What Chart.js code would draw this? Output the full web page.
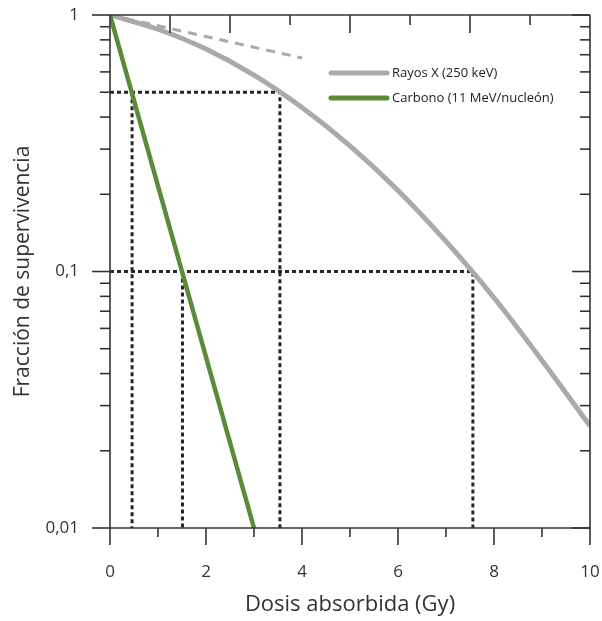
<!DOCTYPE html>
<html lang="es">
<head>
<meta charset="utf-8">
<script src="https://cdn.jsdelivr.net/npm/chart.js@4.4.1/dist/chart.umd.min.js"></script>
<style>
  html, body { margin: 0; padding: 0; background: #fff; }
  #wrap { width: 602px; height: 621px; }
</style>
</head>
<body>
<div id="wrap"><canvas id="supervivenciaChart" width="602" height="621"></canvas></div>
<script>
// Dosis (Gy) y fracción de supervivencia
const dosisRayosX = [0, 1, 2, 3, 4, 5, 6, 7, 8, 9, 10];
const supervRayosX = [1, 0.88, 0.737, 0.583, 0.436, 0.309, 0.207, 0.131, 0.079, 0.045, 0.025];

const dosisCarbono = [0, 3];
const supervCarbono = [1, 0.01];

// Pendiente inicial (línea discontinua)
const dosisInicial = [0, 4];
const supervInicial = [1, 0.68];

// Líneas de referencia punteadas
const dosisRef05 = [0, 3.54, 3.54];
const supervRef05 = [0.5, 0.5, 0.01];
const dosisRefC05 = [0.46, 0.46];
const supervRefC05 = [0.5, 0.01];
const dosisRef01 = [0, 7.56, 7.56];
const supervRef01 = [0.1, 0.1, 0.01];
const dosisRefC01 = [1.51, 1.51];
const supervRefC01 = [0.1, 0.01];

const ticksY = [0.01, 0.1, 1];
const etiquetasLeyenda = ['Rayos X (250 keV)', 'Carbono (11 MeV/nucleón)'];
const ticksSuperiores = [1.25, 2.5, 3.75, 5, 6.25, 7.5, 8.75];
const ticksSupLargos = [true, true, false, true, false, true, false];

const FUENTE = '"Open Sans", "Noto Sans", sans-serif';
const GRIS = '#aaaaaa';
const VERDE = '#5b8a3a';
const EJE = '#333333';

function puntos(xs, ys) {
    return xs.map((x, i) => ({ x: x, y: ys[i] }));
}

function lineaRef(xs, ys) {
    return {
        data: puntos(xs, ys),
        borderColor: '#262626',
        borderWidth: 3,
        borderDash: [4, 3],
        pointRadius: 0,
        fill: false,
        order: 5
    };
}

// sin márgenes extra por las etiquetas de los extremos
function fijarTamano(scale, ancho, alto) {
    if (ancho) scale.width = ancho;
    if (alto) scale.height = alto;
    scale.paddingTop = 0;
    scale.paddingBottom = 0;
    scale.paddingLeft = 0;
    scale.paddingRight = 0;
}

// Plugin para dibujar el marco con marcas de graduación y la leyenda
const marcoPlugin = {
    id: 'marco',
    afterDraw(chart) {
        const ctx = chart.ctx;
        const xs = chart.scales.x;
        const ys = chart.scales.y;
        const area = chart.chartArea;
        const L = area.left, R = area.right, T = area.top, B = area.bottom;

        ctx.save();
        ctx.strokeStyle = EJE;
        ctx.lineWidth = 1.6;
        ctx.lineCap = 'butt';

        const linea = (x1, y1, x2, y2) => {
            ctx.beginPath();
            ctx.moveTo(x1, y1);
            ctx.lineTo(x2, y2);
            ctx.stroke();
        };

        // marco
        linea(L, T, R, T);
        linea(L, B, R, B);
        linea(L, T, L, B);
        linea(R, T, R, B);

        // eje inferior: marcas hacia fuera
        for (let d = 0; d <= 10; d++) {
            const px = xs.getPixelForValue(d);
            linea(px, B, px, B + (d % 2 === 0 ? 17 : 9));
        }

        // eje superior: marcas hacia dentro
        ticksSuperiores.forEach((d, i) => {
            const px = xs.getPixelForValue(d);
            linea(px, T, px, T + (ticksSupLargos[i] ? 18 : 10));
        });

        // ejes verticales logarítmicos
        for (let dec = 0.01; dec < 1.5; dec *= 10) {
            const py = ys.getPixelForValue(dec);
            linea(L - 18, py, L, py);
            linea(R - 18, py, R, py);
            if (dec < 0.5) {
                for (let m = 2; m <= 9; m++) {
                    const pm = ys.getPixelForValue(dec * m);
                    linea(L - 10, pm, L, pm);
                    linea(R - 10, pm, R, pm);
                }
            }
        }

        // leyenda
        const leyenda = chart.data.datasets.filter(ds => ds.enLeyenda);
        ctx.font = '13px ' + FUENTE;
        ctx.textBaseline = 'middle';
        ctx.textAlign = 'left';
        leyenda.forEach((ds, i) => {
            const y = 73 + i * 25;
            ctx.strokeStyle = ds.borderColor;
            ctx.lineWidth = 5;
            ctx.lineCap = 'round';
            linea(331, y, 387, y);
            ctx.fillStyle = '#222';
            ctx.fillText(ds.label, 392, y);
        });
        ctx.restore();
    }
};

document.addEventListener('DOMContentLoaded', () => {
    const ctx = document.getElementById('supervivenciaChart').getContext('2d');

    new Chart(ctx, {
        type: 'line',
        data: {
            datasets: [
                {
                    label: etiquetasLeyenda[0],
                    data: puntos(dosisRayosX, supervRayosX),
                    borderColor: GRIS,
                    borderWidth: 5,
                    pointRadius: 0,
                    cubicInterpolationMode: 'monotone',
                    fill: false,
                    enLeyenda: true,
                    order: 1
                },
                {
                    label: etiquetasLeyenda[1],
                    data: puntos(dosisCarbono, supervCarbono),
                    borderColor: VERDE,
                    borderWidth: 4.5,
                    pointRadius: 0,
                    fill: false,
                    enLeyenda: true,
                    order: 0
                },
                {
                    data: puntos(dosisInicial, supervInicial),
                    borderColor: GRIS,
                    borderWidth: 3,
                    borderDash: [9, 7],
                    pointRadius: 0,
                    fill: false,
                    order: 2
                },
                lineaRef(dosisRef05, supervRef05),
                lineaRef(dosisRefC05, supervRefC05),
                lineaRef(dosisRef01, supervRef01),
                lineaRef(dosisRefC01, supervRefC01)
            ]
        },
        options: {
            responsive: false,
            animation: false,
            layout: {
                padding: { left: 0, top: 15, right: 12, bottom: 0 }
            },
            plugins: {
                legend: { display: false },
                tooltip: { enabled: false }
            },
            scales: {
                x: {
                    type: 'linear',
                    min: 0,
                    max: 10,
                    grid: { display: false, drawTicks: false },
                    border: { display: false },
                    ticks: {
                        stepSize: 2,
                        padding: 34,
                        color: EJE,
                        font: { family: FUENTE, size: 17 }
                    },
                    title: {
                        display: true,
                        text: 'Dosis absorbida (Gy)',
                        color: EJE,
                        padding: { top: 4, bottom: 3 },
                        font: { family: FUENTE, size: 22 }
                    },
                    afterFit: (scale) => fijarTamano(scale, 0, 93)
                },
                y: {
                    type: 'logarithmic',
                    min: 0.01,
                    max: 1,
                    grid: { display: false, drawTicks: false },
                    border: { display: false },
                    afterBuildTicks: (scale) => {
                        scale.ticks = ticksY.map(v => ({ value: v, major: true }));
                    },
                    ticks: {
                        padding: 31,
                        color: EJE,
                        font: { family: FUENTE, size: 17 },
                        callback: (v) => String(v).replace('.', ',')
                    },
                    title: {
                        display: true,
                        text: 'Fracción de supervivencia',
                        color: EJE,
                        padding: { top: 10, bottom: 4 },
                        font: { family: FUENTE, size: 21 }
                    },
                    afterFit: (scale) => fijarTamano(scale, 110, 0)
                }
            }
        },
        plugins: [marcoPlugin]
    });
});
</script>
</body>
</html>
